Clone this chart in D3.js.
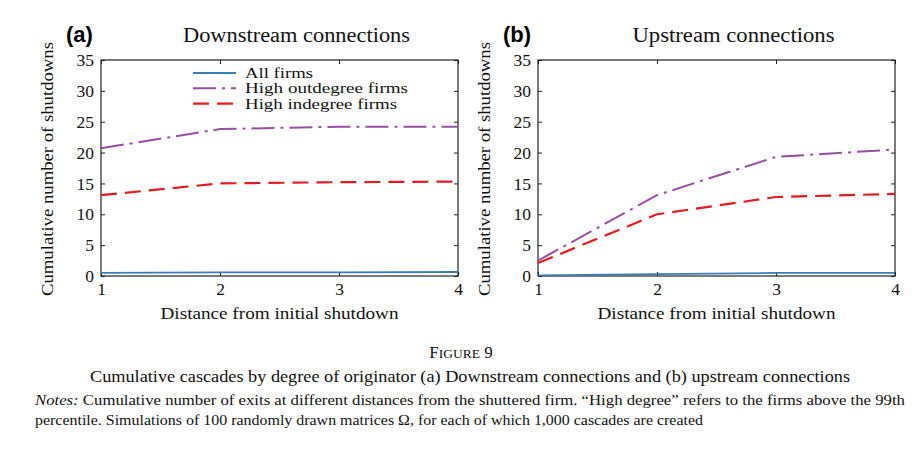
<!DOCTYPE html>
<html>
<head>
<meta charset="utf-8">
<script src="https://cdn.jsdelivr.net/npm/d3@7"></script>
<style>
  body { margin: 0; background: #fff; }
  svg { display: block; }
  svg text { font-family: "Liberation Serif", "DejaVu Serif", serif; }
  .tick text { font-size: 17.5px; fill: #111; }
</style>
</head>
<body>
<div id="chart"></div>
<script>
const distances = [1, 2, 3, 4]
const yTicks = [0, 5, 10, 15, 20, 25, 30, 35]

const seriesNames = ["All firms", "High outdegree firms", "High indegree firms"]

// panel (a) downstream
const downAll = [0.5, 0.6, 0.6, 0.65]
const downOut = [20.7, 23.8, 24.2, 24.2]
const downIn = [13.1, 15.0, 15.2, 15.3]

// panel (b) upstream
const upAll = [0.1, 0.3, 0.5, 0.5]
const upOut = [2.5, 13.1, 19.3, 20.5]
const upIn = [2.1, 10.0, 12.8, 13.3]

const styles = [
  {color: "#377eb8", dash: null, width: 1.8},
  {color: "#984ea3", dash: "23,6,3,6", width: 2},
  {color: "#e41a1c", dash: "16,8", width: 2.2}
]

// text widths measured on the reference (Computer Modern is wider than Times)
const legendWidths = [68, 163, 152]

const width = 923
const height = 465

const svg = d3.select("#chart").append("svg")
  .attr("width", width)
  .attr("height", height)

svg.append("rect").attr("width", width).attr("height", height).attr("fill", "#fff")

const plotTop = 60, plotBottom = 276

function panel(opts) {
  const {left, right, letter, title, titleWidth, series, legend} = opts
  const g = svg.append("g")

  const x = d3.scaleLinear().domain([1, 4]).range([left, right])
  const y = d3.scaleLinear().domain([0, 35]).range([plotBottom, plotTop])

  g.append("g")
    .attr("transform", `translate(${left},0)`)
    .call(d3.axisLeft(y).tickValues(yTicks).tickSizeInner(-4).tickSizeOuter(0).tickPadding(7))
    .attr("font-family", null).attr("font-size", null)

  g.append("g")
    .attr("transform", `translate(${right},0)`)
    .call(d3.axisRight(y).tickValues(yTicks).tickSizeInner(-4).tickSizeOuter(0).tickFormat(""))

  g.append("g")
    .attr("transform", `translate(0,${plotBottom})`)
    .call(d3.axisBottom(x).tickValues(distances).tickSizeInner(-4).tickSizeOuter(0).tickPadding(7).tickFormat(d3.format("d")))
    .attr("font-family", null).attr("font-size", null)

  g.append("g")
    .attr("transform", `translate(0,${plotTop})`)
    .call(d3.axisTop(x).tickValues(distances).tickSizeInner(-4).tickSizeOuter(0).tickFormat(""))

  g.selectAll(".domain").remove()
  g.selectAll(".tick line").attr("stroke", "#222").attr("stroke-width", 1)

  g.append("rect")
    .attr("x", left).attr("y", plotTop)
    .attr("width", right - left).attr("height", plotBottom - plotTop)
    .attr("fill", "none").attr("stroke", "#222").attr("stroke-width", 1.2)

  const line = d3.line()
    .x((d, i) => x(distances[i]))
    .y(d => y(d))

  series.forEach((s, i) => {
    g.append("path")
      .datum(s)
      .attr("fill", "none")
      .attr("stroke", styles[i].color)
      .attr("stroke-width", styles[i].width)
      .attr("stroke-dasharray", styles[i].dash)
      .attr("d", line)
  })

  // labels
  g.append("text")
    .attr("x", left - 35).attr("y", 42)
    .style("font-family", "'Liberation Sans', Arial, sans-serif")
    .attr("font-weight", "bold").attr("font-size", 22)
    .text(letter)

  g.append("text")
    .attr("x", (left + right) / 2 + 17 - titleWidth / 2).attr("y", 42)
    .attr("font-size", 20)
    .attr("textLength", titleWidth).attr("lengthAdjust", "spacingAndGlyphs")
    .attr("fill", "#111")
    .text(title)

  g.append("text")
    .attr("transform", `translate(${left - 48},${(plotTop + plotBottom) / 2 + 128}) rotate(-90)`)
    .attr("font-size", 17.5)
    .attr("textLength", 254).attr("lengthAdjust", "spacingAndGlyphs")
    .attr("fill", "#111")
    .text("Cumulative number of shutdowns")

  g.append("text")
    .attr("x", (left + right) / 2 - 119).attr("y", 319)
    .attr("font-size", 17.5)
    .attr("textLength", 238).attr("lengthAdjust", "spacingAndGlyphs")
    .attr("fill", "#111")
    .text("Distance from initial shutdown")

  if (legend) {
    const lg = g.append("g").attr("transform", `translate(${left + 92},73)`)
    seriesNames.forEach((name, i) => {
      lg.append("line")
        .attr("x1", 0).attr("x2", 43)
        .attr("y1", i * 15.3).attr("y2", i * 15.3)
        .attr("stroke", styles[i].color)
        .attr("stroke-width", styles[i].width)
        .attr("stroke-dasharray", styles[i].dash)
      lg.append("text")
        .attr("x", 52).attr("y", i * 15.3 + 5)
        .attr("font-size", 15.5)
        .attr("textLength", legendWidths[i]).attr("lengthAdjust", "spacingAndGlyphs")
        .attr("fill", "#111")
        .text(name)
    })
  }
}

panel({left: 101, right: 458, letter: "(a)", title: "Downstream connections", titleWidth: 227,
  series: [downAll, downOut, downIn], legend: true})
panel({left: 538, right: 895, letter: "(b)", title: "Upstream connections", titleWidth: 202,
  series: [upAll, upOut, upIn], legend: false})

// caption
const cap = svg.append("g").attr("fill", "#111")

const fig = cap.append("text")
  .attr("x", 461).attr("y", 358).attr("text-anchor", "middle")
  .attr("font-size", 17)
fig.append("tspan").text("F")
fig.append("tspan").attr("font-size", 13.5).text("IGURE")
fig.append("tspan").text(" 9")

cap.append("text")
  .attr("x", 90).attr("y", 382)
  .attr("font-size", 17)
  .attr("textLength", 760).attr("lengthAdjust", "spacingAndGlyphs")
  .text("Cumulative cascades by degree of originator (a) Downstream connections and (b) upstream connections")

const n1 = cap.append("text")
  .attr("x", 35).attr("y", 405)
  .attr("font-size", 15)
  .attr("textLength", 870).attr("lengthAdjust", "spacingAndGlyphs")
n1.append("tspan").attr("font-style", "italic").text("Notes:")
n1.append("tspan").text(" Cumulative number of exits at different distances from the shuttered firm. \u201cHigh degree\u201d refers to the firms above the 99th")

cap.append("text")
  .attr("x", 35).attr("y", 425)
  .attr("font-size", 15)
  .attr("textLength", 668).attr("lengthAdjust", "spacingAndGlyphs")
  .text("percentile. Simulations of 100 randomly drawn matrices \u03a9, for each of which 1,000 cascades are created")
</script>
</body>
</html>
